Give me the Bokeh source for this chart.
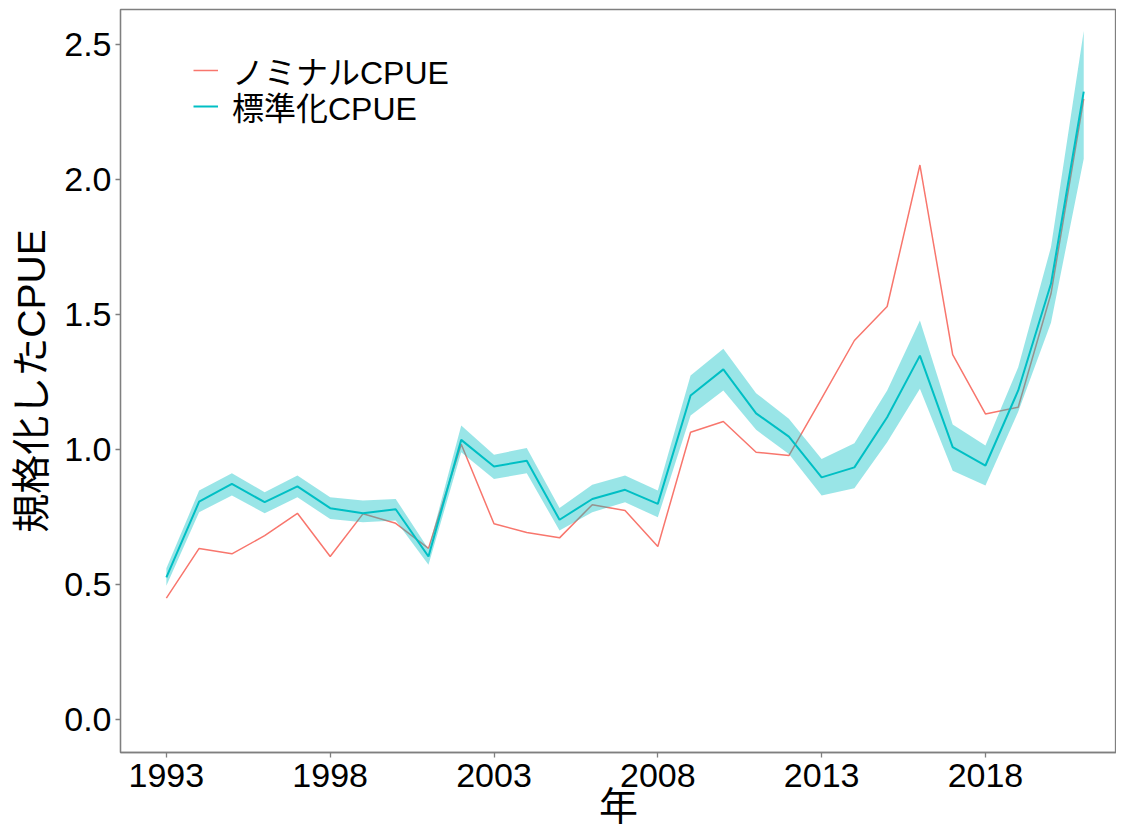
from bokeh.plotting import figure
from bokeh.models import FixedTicker, PrintfTickFormatter, Legend, LegendItem, Range1d, ColumnDataSource
from bokeh.embed import file_html
from bokeh.resources import INLINE

years = list(range(1993, 2022))
nominal = [0.45, 0.634, 0.614, 0.681, 0.764, 0.604, 0.762, 0.727, 0.634, 1.02,
           0.725, 0.693, 0.673, 0.796, 0.774, 0.641, 1.064, 1.104, 0.99, 0.978,
           1.19, 1.404, 1.53, 2.054, 1.352, 1.132, 1.157, 1.577, 2.299]
standardized = [0.527, 0.807, 0.873, 0.805, 0.864, 0.783, 0.764, 0.779, 0.604, 1.036,
                0.937, 0.959, 0.740, 0.817, 0.851, 0.799, 1.2, 1.297, 1.134, 1.048,
                0.897, 0.934, 1.12, 1.348, 1.009, 0.941, 1.219, 1.614, 2.326]
lower = [0.496, 0.768, 0.83, 0.764, 0.823, 0.743, 0.731, 0.737, 0.573, 0.99,
         0.891, 0.912, 0.70, 0.768, 0.805, 0.749, 1.126, 1.219, 1.073, 0.984,
         0.83, 0.857, 1.027, 1.225, 0.922, 0.867, 1.14, 1.47, 2.077]
upper = [0.56, 0.848, 0.912, 0.842, 0.904, 0.823, 0.811, 0.817, 0.632, 1.089,
         0.981, 1.006, 0.784, 0.870, 0.904, 0.848, 1.274, 1.373, 1.209, 1.114,
         0.965, 1.023, 1.219, 1.478, 1.093, 1.015, 1.305, 1.75, 2.55]
x_ticks = [1993, 1998, 2003, 2008, 2013, 2018]
y_ticks = [0.0, 0.5, 1.0, 1.5, 2.0, 2.5]
series_labels = ["ノミナルCPUE", "標準化CPUE"]
x_title = "年"
y_title = "規格化したCPUE"

FONT = "Liberation Sans, Noto Sans CJK JP"
RED = "#F8766D"
CYAN = "#00BFC4"
GRAY = "#7f7f7f"

src = ColumnDataSource(dict(year=years, nominal=nominal, std=standardized, lo=lower, hi=upper))

p = figure(width=1116, height=831, output_backend="svg", toolbar_location=None,
           x_range=Range1d(1991.6, 2022.0), y_range=Range1d(-0.122, 2.63),
           min_border_left=120, min_border_top=9, min_border_bottom=79, min_border_right=0)
p.background_fill_color = "white"
p.border_fill_color = "white"
p.outline_line_color = GRAY
p.outline_line_width = 1.3
p.grid.visible = False

r_nom = p.line("year", "nominal", source=src, line_color=RED, line_width=1.5)
p.varea("year", y1="lo", y2="hi", source=src, fill_color=CYAN, fill_alpha=0.4)
r_std = p.line("year", "std", source=src, line_color=CYAN, line_width=2)

for ax in (p.xaxis[0], p.yaxis[0]):
    ax.axis_line_color = GRAY
    ax.axis_line_width = 1.3
    ax.major_tick_line_color = GRAY
    ax.major_tick_line_width = 1.3
    ax.major_tick_in = 0
    ax.major_tick_out = 5
    ax.minor_tick_line_color = None
    ax.major_label_text_font = FONT
    ax.major_label_text_font_size = "34px"
    ax.major_label_text_color = "black"
    ax.axis_label_text_font = FONT
    ax.axis_label_text_font_size = "39px"
    ax.axis_label_text_font_style = "normal"
    ax.axis_label_text_color = "black"

p.xaxis[0].ticker = FixedTicker(ticks=x_ticks)
p.yaxis[0].ticker = FixedTicker(ticks=y_ticks)
p.yaxis[0].formatter = PrintfTickFormatter(format="%.1f")
p.xaxis[0].axis_label = x_title
p.yaxis[0].axis_label = y_title
p.xaxis[0].major_label_standoff = 6
p.xaxis[0].axis_label_standoff = -5
p.yaxis[0].major_label_standoff = 4
p.yaxis[0].axis_label_standoff = 8

common = dict(margin=0, padding=0, spacing=0, background_fill_alpha=0, border_line_color=None,
              label_text_font=FONT, label_text_font_size="32px", label_text_color="black",
              glyph_width=25, glyph_height=36, label_height=36, label_standoff=14)
legend_a = Legend(items=[LegendItem(label=series_labels[0], renderers=[r_nom])],
                  location=(73, 659), **common)
legend_b = Legend(items=[LegendItem(label=series_labels[1], renderers=[r_std])],
                  location=(73, 623), **common)
p.add_layout(legend_a)
p.add_layout(legend_b)

open("out.html", "w").write(file_html(p, INLINE))
